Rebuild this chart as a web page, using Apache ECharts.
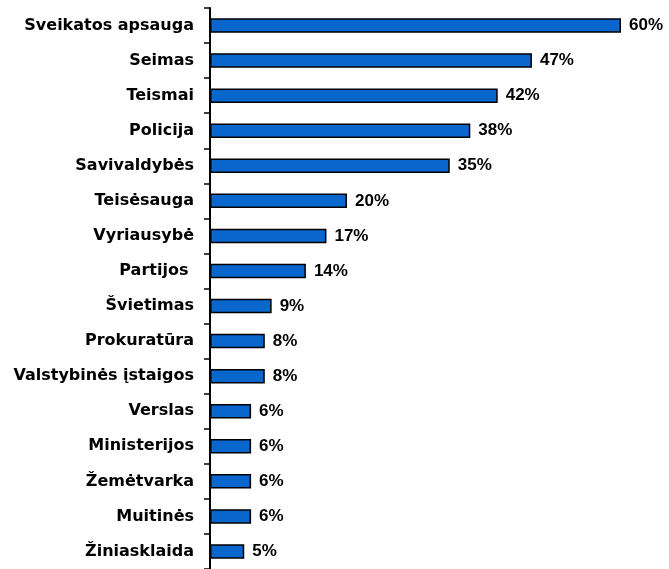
<!DOCTYPE html>
<html>
<head>
<meta charset="utf-8">
<script src="https://cdn.jsdelivr.net/npm/echarts@6/dist/echarts.min.js"></script>
<style>
  html, body { margin: 0; padding: 0; background: #ffffff; }
  #chart { width: 669px; height: 569px; }
</style>
</head>
<body>
<div id="chart"></div>
<script>
// Institutions, top to bottom
const categories = [
  'Sveikatos apsauga', 'Seimas', 'Teismai', 'Policija', 'Savivaldybės',
  'Teisėsauga', 'Vyriausybė', 'Partijos ', 'Švietimas', 'Prokuratūra',
  'Valstybinės įstaigos', 'Verslas', 'Ministerijos', 'Žemėtvarka',
  'Muitinės', 'Žiniasklaida'
];
// Share of respondents, %
const values = [60, 47, 42, 38, 35, 20, 17, 14, 9, 8, 8, 6, 6, 6, 6, 5];

const chart = echarts.init(document.getElementById('chart'), null, { renderer: 'canvas' });

chart.setOption({
  animation: false,
  backgroundColor: '#ffffff',
  grid: { left: 210, top: 8, width: 411, height: 565, containLabel: false },
  xAxis: {
    type: 'value',
    min: 0,
    max: 60,
    show: false
  },
  yAxis: {
    type: 'category',
    data: categories,
    inverse: true,
    axisLine: { show: true, lineStyle: { color: '#000000', width: 2 } },
    axisTick: { show: true, inside: false, length: 6, lineStyle: { color: '#000000', width: 1.5 } },
    axisLabel: {
      margin: 16,
      color: '#000000',
      fontFamily: 'DejaVu Sans',
      fontWeight: 'bold',
      fontSize: 16
    },
    splitLine: { show: false }
  },
  series: [{
    type: 'bar',
    data: values,
    barWidth: 14.5,
    itemStyle: { color: '#0866CC', borderColor: '#000000', borderWidth: 1.5 },
    label: {
      show: true,
      position: 'right',
      distance: 8,
      formatter: p => p.value + '%',
      color: '#000000',
      fontFamily: 'Liberation Sans',
      fontWeight: 'bold',
      fontSize: 17
    }
  }]
});
</script>
</body>
</html>
